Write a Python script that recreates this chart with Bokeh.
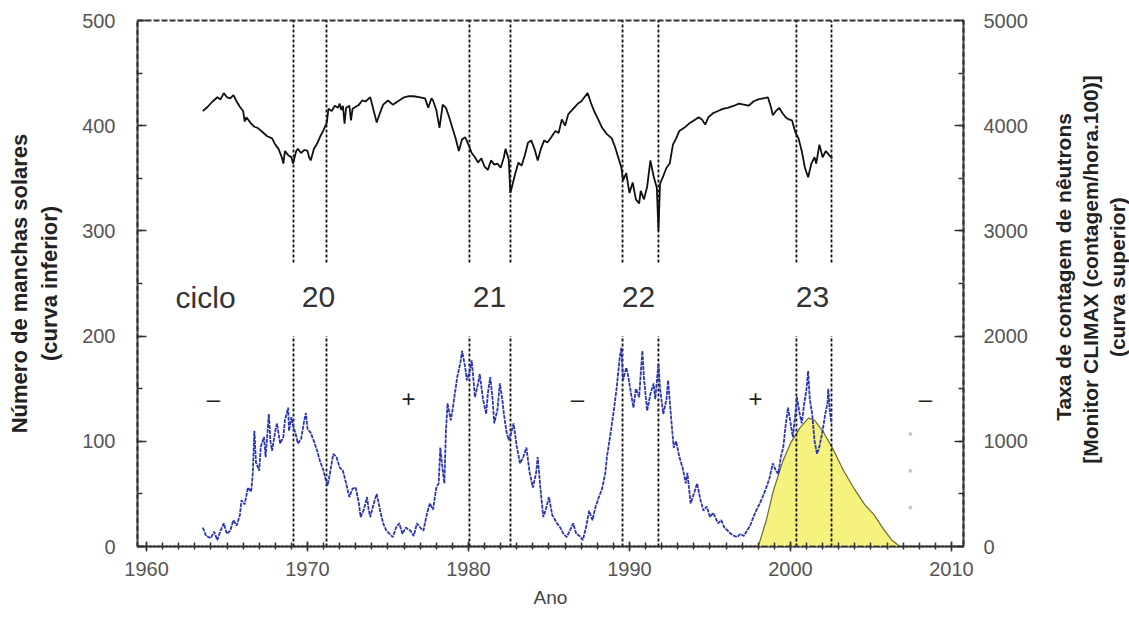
import math
from bokeh.plotting import figure
from bokeh.layouts import row
from bokeh.models import Range1d, LinearAxis, SingleIntervalTicker
from bokeh.core.properties import value
from bokeh.embed import file_html
from bokeh.resources import INLINE

# ---------------- data ----------------
# monthly-ish sunspot number (lower curve, left axis)
sun_year = [1963.5, 1963.7, 1964.0, 1964.2, 1964.4, 1964.6, 1964.8, 1965.0, 1965.2, 1965.4, 1965.6, 1965.8,
            1965.9, 1966.1, 1966.3, 1966.5, 1966.6, 1966.7, 1966.8, 1967.0, 1967.1, 1967.3, 1967.4, 1967.6,
            1967.7, 1967.8, 1968.0, 1968.1, 1968.3, 1968.5, 1968.6, 1968.8, 1968.85, 1969.0, 1969.1, 1969.3,
            1969.4, 1969.6, 1969.8, 1969.9, 1970.0, 1970.2, 1970.4, 1970.6, 1970.8, 1971.0, 1971.1, 1971.25,
            1971.4, 1971.6, 1971.8, 1972.0, 1972.2, 1972.4, 1972.6, 1972.8, 1973.0, 1973.2, 1973.3, 1973.5,
            1973.7, 1973.8, 1973.9, 1974.1, 1974.3, 1974.5, 1974.7, 1974.9, 1975.1, 1975.3, 1975.5, 1975.7,
            1975.9, 1976.1, 1976.4, 1976.6, 1976.8, 1977.0, 1977.2, 1977.4, 1977.6, 1977.8, 1978.0, 1978.15,
            1978.25, 1978.4, 1978.5, 1978.6, 1978.7, 1978.9, 1979.0, 1979.2, 1979.3, 1979.5, 1979.6, 1979.8,
            1979.9, 1980.1, 1980.2, 1980.3, 1980.4, 1980.6, 1980.7, 1980.9, 1981.1, 1981.2, 1981.35, 1981.5,
            1981.6, 1981.8, 1981.95, 1982.1, 1982.2, 1982.35, 1982.5, 1982.65, 1982.8, 1983.0, 1983.2, 1983.4,
            1983.6, 1983.8, 1984.0, 1984.2, 1984.3, 1984.5, 1984.65, 1984.8, 1985.0, 1985.2, 1985.5, 1985.7,
            1985.9, 1986.1, 1986.3, 1986.5, 1986.7, 1986.9, 1987.1, 1987.3, 1987.5, 1987.7, 1987.9, 1988.1,
            1988.3, 1988.5, 1988.6, 1988.8, 1989.0, 1989.2, 1989.4, 1989.5, 1989.6, 1989.8, 1989.9, 1990.1,
            1990.25, 1990.4, 1990.6, 1990.8, 1990.9, 1991.1, 1991.3, 1991.5, 1991.6, 1991.8, 1991.9, 1992.1,
            1992.3, 1992.4, 1992.6, 1992.75, 1992.9, 1993.1, 1993.3, 1993.5, 1993.6, 1993.8, 1994.0, 1994.2,
            1994.4, 1994.6, 1994.8, 1995.0, 1995.2, 1995.5, 1995.7, 1995.9, 1996.1, 1996.3, 1996.5, 1996.7,
            1996.9, 1997.1, 1997.3, 1997.5, 1997.7, 1997.9, 1998.1, 1998.3, 1998.5, 1998.7, 1998.9, 1999.1,
            1999.25, 1999.4, 1999.55, 1999.7, 1999.85, 2000.0, 2000.15, 2000.3, 2000.4, 2000.55, 2000.7, 2000.85,
            2001.0, 2001.1, 2001.2, 2001.35, 2001.5, 2001.65, 2001.8, 2002.0, 2002.15, 2002.3, 2002.35, 2002.45,
            2002.55]
sun_num = [18, 10, 8, 14, 6, 15, 22, 12, 15, 25, 20, 30,
           44, 40, 56, 52, 69, 110, 80, 72, 95, 104, 85, 126,
           100, 91, 110, 117, 98, 104, 120, 132, 110, 123, 115, 105,
           98, 102, 120, 127, 112, 108, 100, 91, 80, 72, 65, 58,
           70, 88, 85, 75, 72, 60, 47, 55, 56, 40, 28, 35,
           47, 35, 28, 40, 50, 35, 22, 15, 12, 9, 18, 22,
           12, 18, 15, 10, 22, 18, 15, 30, 41, 35, 56, 60,
           94, 72, 60, 110, 136, 120, 129, 150, 161, 175, 186, 170,
           158, 168, 177, 160, 142, 155, 164, 140, 126, 145, 161, 140,
           117, 130, 155, 140, 126, 110, 101, 108, 117, 95, 79, 85,
           94, 70, 56, 70, 85, 50, 28, 35, 47, 30, 22, 18,
           12, 9, 15, 22, 12, 10, 6, 18, 34, 25, 38, 47,
           55, 70, 85, 105, 126, 150, 180, 189, 158, 170, 164, 145,
           132, 150, 142, 186, 160, 129, 145, 155, 140, 174, 150, 126,
           140, 158, 120, 94, 100, 85, 75, 60, 70, 41, 50, 60,
           45, 34, 38, 28, 32, 22, 25, 18, 15, 12, 10, 9,
           12, 10, 15, 20, 28, 35, 41, 48, 56, 65, 79, 72,
           69, 85, 94, 115, 132, 118, 104, 125, 142, 128, 117, 135,
           150, 167, 140, 126, 100, 88, 95, 110, 125, 136, 150, 128,
           117]

# CLIMAX neutron monitor count rate (upper curve, right axis)
neu_year = [1963.5, 1963.8, 1964.1, 1964.4, 1964.6, 1964.8, 1965.0, 1965.2, 1965.4, 1965.6, 1965.8, 1966.0,
            1966.1, 1966.2, 1966.5, 1966.7, 1966.9, 1967.2, 1967.5, 1967.8, 1968.0, 1968.2, 1968.4, 1968.5,
            1968.6, 1968.8, 1969.0, 1969.1, 1969.3, 1969.4, 1969.6, 1969.8, 1970.0, 1970.1, 1970.2, 1970.4,
            1970.6, 1970.8, 1971.0, 1971.2, 1971.3, 1971.5, 1971.7, 1971.9, 1972.0, 1972.1, 1972.2, 1972.3,
            1972.4, 1972.6, 1972.7, 1972.8, 1973.0, 1973.2, 1973.4, 1973.6, 1973.9, 1974.1, 1974.3, 1974.5,
            1974.7, 1975.0, 1975.3, 1975.6, 1976.0, 1976.3, 1976.6, 1977.0, 1977.3, 1977.5, 1977.7, 1977.8,
            1978.0, 1978.2, 1978.4, 1978.6, 1978.8, 1979.0, 1979.2, 1979.4, 1979.6, 1979.8, 1980.0, 1980.2,
            1980.4, 1980.6, 1980.8, 1981.0, 1981.2, 1981.4, 1981.6, 1981.8, 1982.0, 1982.2, 1982.3, 1982.5,
            1982.6, 1982.7, 1982.9, 1983.1, 1983.3, 1983.5, 1983.7, 1983.9, 1984.1, 1984.3, 1984.5, 1984.7,
            1984.9, 1985.1, 1985.4, 1985.6, 1985.8, 1986.0, 1986.2, 1986.5, 1986.8, 1987.0, 1987.2, 1987.4,
            1987.6, 1987.8, 1988.0, 1988.3, 1988.6, 1988.9, 1989.1, 1989.3, 1989.5, 1989.6, 1989.8, 1990.0,
            1990.2, 1990.4, 1990.6, 1990.7, 1990.9, 1991.1, 1991.3, 1991.5, 1991.7, 1991.8, 1991.9, 1992.1,
            1992.3, 1992.5, 1992.7, 1992.9, 1993.1, 1993.4, 1993.7, 1994.0, 1994.3, 1994.5, 1994.7, 1994.9,
            1995.2, 1995.5, 1995.8, 1996.1, 1996.5, 1996.8, 1997.1, 1997.4, 1997.7, 1998.0, 1998.3, 1998.6,
            1998.8, 1998.9, 1999.1, 1999.3, 1999.5, 1999.7, 1999.9, 2000.1, 2000.3, 2000.5, 2000.7, 2000.9,
            2001.1, 2001.3, 2001.5, 2001.6, 2001.8, 2002.0, 2002.2, 2002.4, 2002.6]
neu_count = [4140, 4180, 4230, 4270, 4250, 4310, 4270, 4260, 4290, 4230, 4180, 4140,
             4040, 4080, 4020, 3990, 3980, 3940, 3900, 3880, 3820, 3780, 3700, 3640,
             3760, 3720, 3700, 3640, 3760, 3780, 3740, 3770, 3760, 3700, 3670, 3780,
             3830, 3900, 3960, 4030, 4160, 4140, 4190, 4170, 4210, 4150, 4190, 4020,
             4170, 4190, 4050, 4160, 4180, 4200, 4240, 4230, 4270, 4150, 4030, 4120,
             4200, 4240, 4200, 4230, 4270, 4280, 4280, 4270, 4260, 4170, 4260, 4240,
             4150, 3980, 4200, 4170, 4080, 3980, 3880, 3760, 3870, 3890, 3820, 3740,
             3700, 3650, 3690, 3610, 3580, 3670, 3630, 3640, 3600, 3700, 3780, 3680,
             3360, 3420, 3540, 3650, 3620, 3720, 3840, 3860, 3780, 3670, 3780, 3860,
             3840, 3880, 3950, 3930, 4060, 4000, 4110, 4160, 4210, 4230, 4270, 4310,
             4220, 4140, 4080, 3980, 3920, 3880, 3800, 3700, 3600, 3480, 3550, 3360,
             3460, 3300, 3260, 3380, 3300, 3420, 3670, 3520, 3410, 3000, 3450, 3520,
             3600, 3640, 3820, 3880, 3950, 3980, 4020, 4050, 4080, 4060, 4010, 4080,
             4120, 4140, 4160, 4170, 4190, 4210, 4200, 4190, 4230, 4250, 4260, 4270,
             4170, 4100, 4140, 4170, 4120, 4080, 4060, 4050, 3940, 3880, 3760, 3600,
             3510, 3640, 3700, 3640, 3820, 3700, 3760, 3720, 3690]

# predicted cycle 23 (yellow area)
pred_year = [1998.0, 1998.5, 1998.94, 1999.5, 2000.0, 2000.6, 2001.12, 2001.5, 2002.0, 2002.7,
             2003.3, 2004.0, 2004.6, 2005.2, 2005.8, 2006.3, 2006.8]
pred_num = [0, 25, 53, 80, 98, 113, 122, 120, 110, 91, 72, 54, 40, 30, 16, 6, 0]

# field reversal epochs (vertical dashed lines)
rev_year = [1969.13, 1971.18, 1980.06, 1982.61, 1989.57, 1991.80, 2000.37, 2002.55]

# cycle labels
cycle_text = ["ciclo", "20", "21", "22", "23"]
cycle_year = [1963.67, 1970.68, 1981.3, 1990.56, 2001.37]

# polarity signs
sign_text = ["\u2013", "+", "\u2013", "+", "\u2013"]
sign_year = [1964.16, 1976.27, 1986.77, 1997.83, 2008.39]

# faint grey dots
dot_year = [2007.45, 2007.45, 2007.45]
dot_num = [107, 72, 37]

# axis titles
left_title = "Número de manchas solares\n(curva inferior)"
right_title_lines = ["Taxa de contagem de nêutrons",
                     "[Monitor CLIMAX (contagem/hora.100)]",
                     "(curva superior)"]
x_title = "Ano"

FONT = "Liberation Sans"
W_MAIN = 1040
W_SIDE = 1129 - W_MAIN
H = 619

# ---------------- main figure ----------------
p = figure(width=W_MAIN, height=H, x_range=Range1d(1959.44, 2010.75), y_range=Range1d(0, 500),
           output_backend="svg", toolbar_location=None,
           min_border_left=137, min_border_right=W_MAIN - 963, min_border_top=20, min_border_bottom=73)
p.extra_y_ranges = {"neutron": Range1d(0, 5000)}
p.background_fill_color = "white"
p.border_fill_color = "white"
p.xgrid.visible = False
p.ygrid.visible = False
p.outline_line_color = "#333333"
p.outline_line_width = 2
p.outline_line_dash = "6 2"

# x axis
xa = p.xaxis[0]
xa.ticker = SingleIntervalTicker(interval=10, num_minor_ticks=10)
xa.major_tick_in = 5
xa.major_tick_out = 5
xa.minor_tick_in = 4
xa.minor_tick_out = 3
xa.major_label_standoff = 10
xa.major_label_text_font = FONT
xa.major_label_text_font_size = "20px"
xa.major_label_text_color = "#555555"
xa.axis_label = x_title
xa.axis_label_standoff = 8
xa.axis_label_text_font = FONT
xa.axis_label_text_font_size = "19px"
xa.axis_label_text_font_style = "normal"
xa.axis_label_text_color = "#444444"

# left y axis
ya = p.yaxis[0]
ya.ticker = SingleIntervalTicker(interval=100, num_minor_ticks=2)
ya.major_tick_in = 9
ya.major_tick_out = 0
ya.minor_tick_in = 5
ya.minor_tick_out = 0
ya.major_label_standoff = 22
ya.major_label_text_font = FONT
ya.major_label_text_font_size = "20px"
ya.major_label_text_color = "#555555"
ya.axis_label = left_title
ya.axis_label_standoff = 17
ya.axis_label_text_font = FONT
ya.axis_label_text_font_size = "22px"
ya.axis_label_text_font_style = "bold"
ya.axis_label_text_color = "#222222"

# right y axis
ra = LinearAxis(y_range_name="neutron")
ra.ticker = SingleIntervalTicker(interval=1000, num_minor_ticks=2)
ra.major_tick_in = 9
ra.major_tick_out = 0
ra.minor_tick_in = 5
ra.minor_tick_out = 0
ra.major_label_standoff = 20
ra.major_label_text_font = FONT
ra.major_label_text_font_size = "20px"
ra.major_label_text_color = "#555555"
p.add_layout(ra, "right")

for ax in (xa, ya, ra):
    ax.axis_line_color = "#333333"
    ax.axis_line_width = 2
    ax.axis_line_dash = "6 2"
    ax.major_tick_line_color = "#333333"
    ax.major_tick_line_width = 1.5
    ax.minor_tick_line_color = "#333333"
    ax.minor_tick_line_width = 1.5

# glyphs
p.varea(x=pred_year, y1=[0] * len(pred_year), y2=pred_num, fill_color="#f6f27e")
p.line(pred_year, pred_num, line_color="#6b6b30", line_width=1.2)

p.segment(x0=rev_year, y0=[270] * len(rev_year), x1=rev_year, y1=[500] * len(rev_year),
          line_color="#111111", line_width=1.8, line_dash="3 2")
p.segment(x0=rev_year, y0=[0] * len(rev_year), x1=rev_year, y1=[200] * len(rev_year),
          line_color="#111111", line_width=1.8, line_dash="3 2")

p.line(sun_year, sun_num, line_color="#2b35b5", line_width=1.8, line_dash="4 1")
p.line(neu_year, neu_count, y_range_name="neutron", line_color="#111111", line_width=1.8)

p.scatter(dot_year, dot_num, size=4, fill_color="#c8c8c8", line_color=None)

p.text(x=cycle_year, y=[237] * len(cycle_year), text=cycle_text, text_font=value(FONT),
       text_font_size="30px", text_color="#333333", text_align="center", text_baseline="middle")
p.text(x=sign_year, y=[141] * len(sign_year), text=sign_text, text_font=value(FONT),
       text_font_size="24px", text_color="#222222", text_align="center", text_baseline="middle")

# ---------------- right-hand title strip ----------------
q = figure(width=W_SIDE, height=H, x_range=Range1d(0, W_SIDE), y_range=Range1d(0, H),
           output_backend="svg", toolbar_location=None,
           min_border=0, min_border_left=0, min_border_right=0, min_border_top=0, min_border_bottom=0)
q.axis.visible = False
q.xgrid.visible = False
q.ygrid.visible = False
q.outline_line_color = None
q.background_fill_color = "white"
q.border_fill_color = "white"
q.text(x=[23, 50, 77], y=[329, 326, 317], text=right_title_lines, angle=math.pi / 2,
       text_font=value(FONT), text_font_size="21px", text_font_style="bold", text_color="#222222",
       text_align="center", text_baseline="middle")

layout = row(p, q, spacing=0)
open("out.html", "w").write(file_html(layout, INLINE))
